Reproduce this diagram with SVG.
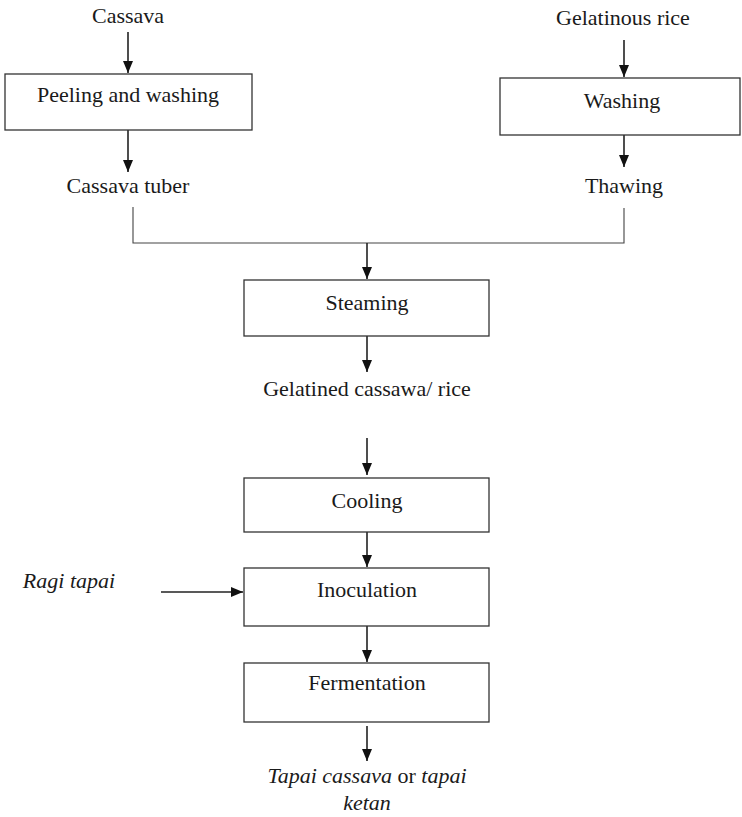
<svg xmlns="http://www.w3.org/2000/svg" width="742" height="817" viewBox="0 0 742 817">
<style>
text{font-family:"Liberation Serif","Times New Roman",serif;font-size:22px;fill:#1a1a1a;text-anchor:middle}
.it{font-style:italic}
.box{fill:#fff;stroke:#333;stroke-width:1.3}
.ln{fill:none;stroke:#222;stroke-width:1.6}
.ln1{fill:none;stroke:#444;stroke-width:1.1}
</style>
<defs>
<marker id="ah" viewBox="0 0 12 10" refX="12" refY="5" markerWidth="12" markerHeight="10" markerUnits="userSpaceOnUse" orient="auto">
<path d="M0,0 L12,5 L0,10 Z" fill="#111"/>
</marker>
</defs>
<rect width="742" height="817" fill="#fff"/>
<g id="connectors">
<line class="ln" x1="128" y1="32" x2="128" y2="73" marker-end="url(#ah)"/>
<line class="ln" x1="128" y1="130" x2="128" y2="172" marker-end="url(#ah)"/>
<line class="ln" x1="624" y1="40" x2="624" y2="77" marker-end="url(#ah)"/>
<line class="ln" x1="624" y1="135" x2="624" y2="167" marker-end="url(#ah)"/>
<path class="ln1" d="M133,207 V243 H624 V208"/>
<line class="ln" x1="367" y1="243" x2="367" y2="279" marker-end="url(#ah)"/>
<line class="ln" x1="367" y1="336" x2="367" y2="372" marker-end="url(#ah)"/>
<line class="ln" x1="367" y1="438" x2="367" y2="475" marker-end="url(#ah)"/>
<line class="ln" x1="367" y1="532" x2="367" y2="567" marker-end="url(#ah)"/>
<line class="ln" x1="367" y1="626" x2="367" y2="662" marker-end="url(#ah)"/>
<line class="ln" x1="367" y1="726" x2="367" y2="761" marker-end="url(#ah)"/>
<line class="ln" x1="161" y1="592" x2="243" y2="592" marker-end="url(#ah)"/>
</g>
<g id="cassava"><text x="128" y="23">Cassava</text></g>
<g id="peeling"><rect class="box" x="5" y="74" width="247" height="56"/><text x="128" y="102">Peeling and washing</text></g>
<g id="cassava-tuber"><text x="128" y="193">Cassava tuber</text></g>
<g id="gelatinous-rice"><text x="623" y="25">Gelatinous rice</text></g>
<g id="washing"><rect class="box" x="500" y="78" width="240" height="57"/><text x="622" y="108">Washing</text></g>
<g id="thawing"><text x="624" y="193">Thawing</text></g>
<g id="steaming"><rect class="box" x="244" y="280" width="245" height="56"/><text x="367" y="310">Steaming</text></g>
<g id="gelatined"><text x="367" y="396">Gelatined cassawa/ rice</text></g>
<g id="cooling"><rect class="box" x="244" y="478" width="245" height="54"/><text x="367" y="508">Cooling</text></g>
<g id="ragi"><text class="it" x="69" y="588">Ragi tapai</text></g>
<g id="inoculation"><rect class="box" x="244" y="568" width="245" height="58"/><text x="367" y="597">Inoculation</text></g>
<g id="fermentation"><rect class="box" x="244" y="663" width="245" height="59"/><text x="367" y="690">Fermentation</text></g>
<g id="product"><text x="367" y="783"><tspan class="it">Tapai cassava</tspan> or <tspan class="it">tapai</tspan></text><text class="it" x="367" y="810">ketan</text></g>
</svg>
